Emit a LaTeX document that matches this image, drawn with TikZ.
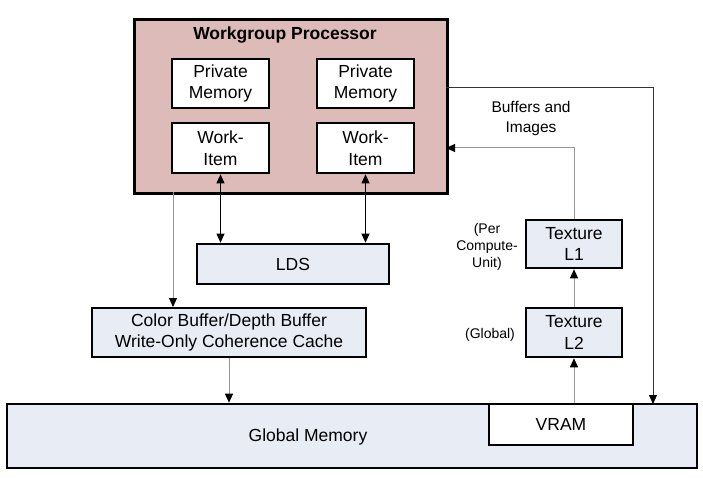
\documentclass[tikz,border=0pt]{standalone}
\usepackage{fontspec}
\setmainfont{Liberation Sans}
\usetikzlibrary{arrows.meta}
\definecolor{wgp}{RGB}{221,187,184}
\definecolor{boxblue}{RGB}{232,236,245}
\definecolor{lgray}{RGB}{150,150,150}
\begin{document}
\begin{tikzpicture}[x=1pt,y=-1pt,
  box/.style={draw=black,line width=2.6pt,fill=boxblue,inner sep=0pt,align=center,font=\fontsize{17.5}{21.5}\selectfont},
  wbox/.style={box,fill=white},
  tip/.style={-{Triangle[length=9pt,width=8pt,color=black]}},
  dtip/.style={{Triangle[length=9pt,width=8pt,color=black]}-{Triangle[length=9pt,width=8pt,color=black]}},
  glink/.style={draw=lgray,line width=1pt},
  blink/.style={draw=black,line width=0.9pt},
  lbl/.style={font=\fontsize{14}{17}\selectfont,align=center,inner sep=0pt}]
\useasboundingbox (0,0) rectangle (703,478);
% Workgroup processor
\node[draw=black,line width=2.6pt,fill=wgp,minimum width=313pt,minimum height=174pt,inner sep=0pt,anchor=north west] (wgp) at (133,18) {};
\node[font=\bfseries\fontsize{17.5}{20}\selectfont,inner sep=0pt] (title) at (285,35) {Workgroup Processor};
\node[wbox,minimum width=97pt,minimum height=49pt] (pm1) at (220.5,83.5) {Private\\Memory};
\node[wbox,minimum width=97pt,minimum height=49pt] (pm2) at (365.5,83.5) {Private\\Memory};
\node[wbox,minimum width=97pt,minimum height=50pt] (wi1) at (220.5,148) {Work-\\Item};
\node[wbox,minimum width=97pt,minimum height=50pt] (wi2) at (365.5,148) {Work-\\Item};
% LDS
\node[box,minimum width=192pt,minimum height=40pt] (lds) at (293,264) {LDS};
% Color buffer
\node[box,minimum width=274pt,minimum height=49pt] (cb) at (229,332.5) {Color Buffer/Depth Buffer\\Write-Only Coherence Cache};
% Global memory
\node[box,minimum width=690pt,minimum height=64pt] (gm) at (352,436) {};
\node[font=\fontsize{17.5}{20}\selectfont,inner sep=0pt] (gmt) at (308,437) {Global Memory};
\node[wbox,minimum width=144pt,minimum height=41pt] (vram) at (561,424.5) {VRAM};
% Textures
\node[box,minimum width=96pt,minimum height=48pt] (l1) at (574,244) {Texture\\L1};
\node[box,minimum width=96pt,minimum height=49pt] (l2) at (574,332.5) {Texture\\L2};
% labels
\node[lbl,font=\fontsize{15.5}{19.5}\selectfont] (bi) at (531,118.5) {Buffers and\\Images};
\node[lbl] (pcu) at (487,247) {(Per\\Compute-\\Unit)};
\node[lbl] (glb) at (490,335) {(Global)};
% connectors
\coordinate (wgpb1) at (173,192);
\coordinate (cbt1) at (173,307);
\draw[glink,tip] (wgpb1) -- (cbt1);
\draw[blink,dtip] (wi1.south) -- (wi1.south |- lds.north);
\draw[blink,dtip] (wi2.south) -- (wi2.south |- lds.north);
\draw[glink,tip] (cb.south) -- (cb.south |- gm.north);
\draw[glink,tip] (vram.north -| l2.south) -- (l2.south);
\draw[glink,tip] (l2.north) -- (l1.south);
\coordinate (bend1) at (574,148);
\coordinate (wgpr1) at (446,148);
\draw[glink,tip] (l1.north) -- (bend1) -- (wgpr1);
\coordinate (wgpr2) at (446,87);
\coordinate (bend2) at (653,87);
\coordinate (gmt2) at (653,404);
\draw[blink,tip,draw=black!80] (wgpr2) -- (bend2) -- (gmt2);
\end{tikzpicture}
\end{document}
